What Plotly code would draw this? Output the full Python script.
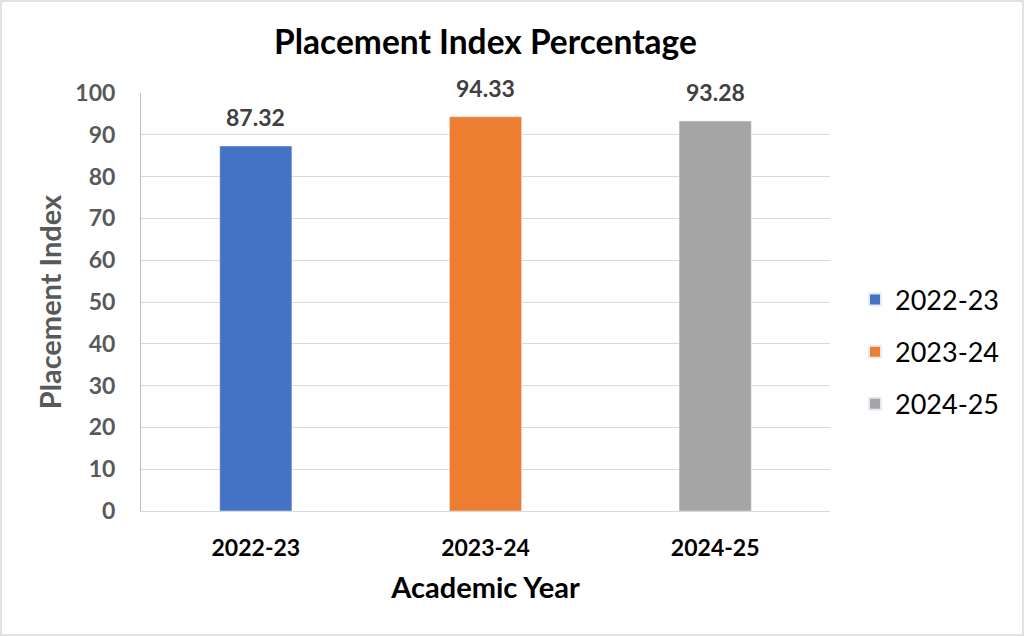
import plotly.graph_objects as go

categories = ["2022-23", "2023-24", "2024-25"]
values = [87.32, 94.33, 93.28]
colors = ["#4472C4", "#ED7D31", "#A5A5A5"]
y_ticks = [0, 10, 20, 30, 40, 50, 60, 70, 80, 90, 100]

W, H = 1024, 636
L, R, T, B = 141, 194, 93, 125
pw, ph = W - L - R, H - T - B
FONT = "Lato"

fig = go.Figure()
for c, v, col in zip(categories, values, colors):
    fig.add_trace(go.Bar(
        x=[c], y=[v], name=c, marker_color=col, width=0.314,
        legendgroup=c, hoverinfo="x+y",
    ))
    fig.add_annotation(
        x=c, y=v, text=f"{v:.2f}", showarrow=False, yanchor="bottom", yshift=13,
        font=dict(family=FONT, size=23, color="#404040", weight="bold"),
    )

fig.update_layout(
    width=W, height=H,
    margin=dict(l=L, r=R, t=T, b=B),
    paper_bgcolor="white", plot_bgcolor="white",
    barmode="overlay",
    title=dict(text="<b>Placement Index Percentage</b>", x=0.5, xref="paper",
               xanchor="center", y=1 - 42 / H, yanchor="middle",
               font=dict(family=FONT, size=33.5, color="#000000")),
    legend=dict(x=(855 - L) / pw, xanchor="left", y=(511 - 352) / ph, yanchor="middle",
                font=dict(family=FONT, size=27, color="#000000"),
                tracegroupgap=14, itemsizing="constant", bgcolor="rgba(0,0,0,0)"),
    xaxis=dict(
        type="category", categoryorder="array", categoryarray=categories,
        showgrid=False, showline=True, linecolor="#D9D9D9", linewidth=1,
        ticks="", tickfont=dict(family=FONT, size=23, color="#000000", weight="bold"),
        ticklabelstandoff=16,
        title=dict(text="<b>Academic Year</b>", standoff=18,
                   font=dict(family=FONT, size=29, color="#000000")),
    ),
    yaxis=dict(
        range=[0, 100], tickvals=y_ticks, showgrid=True, gridcolor="#D9D9D9", gridwidth=1,
        showline=True, linecolor="#BFBFBF", linewidth=1, ticks="",
        zeroline=False,
        tickfont=dict(family=FONT, size=23, color="#595959", weight="bold"),
        ticklabelstandoff=20,
        title=dict(text="<b>Placement Index</b>", standoff=5,
                   font=dict(family=FONT, size=29, color="#595959")),
    ),
)

fig.add_shape(type="rect", xref="paper", yref="paper",
              x0=(1 - L) / pw, x1=(W - 1 - L) / pw,
              y0=-(B - 1) / ph, y1=1 + (T - 1) / ph,
              line=dict(color="#D9D9D9", width=1.5), layer="below")

fig.write_html("out.html", config={"displayModeBar": False},
               post_script="document.body.style.margin='0';document.body.style.overflow='hidden';")
